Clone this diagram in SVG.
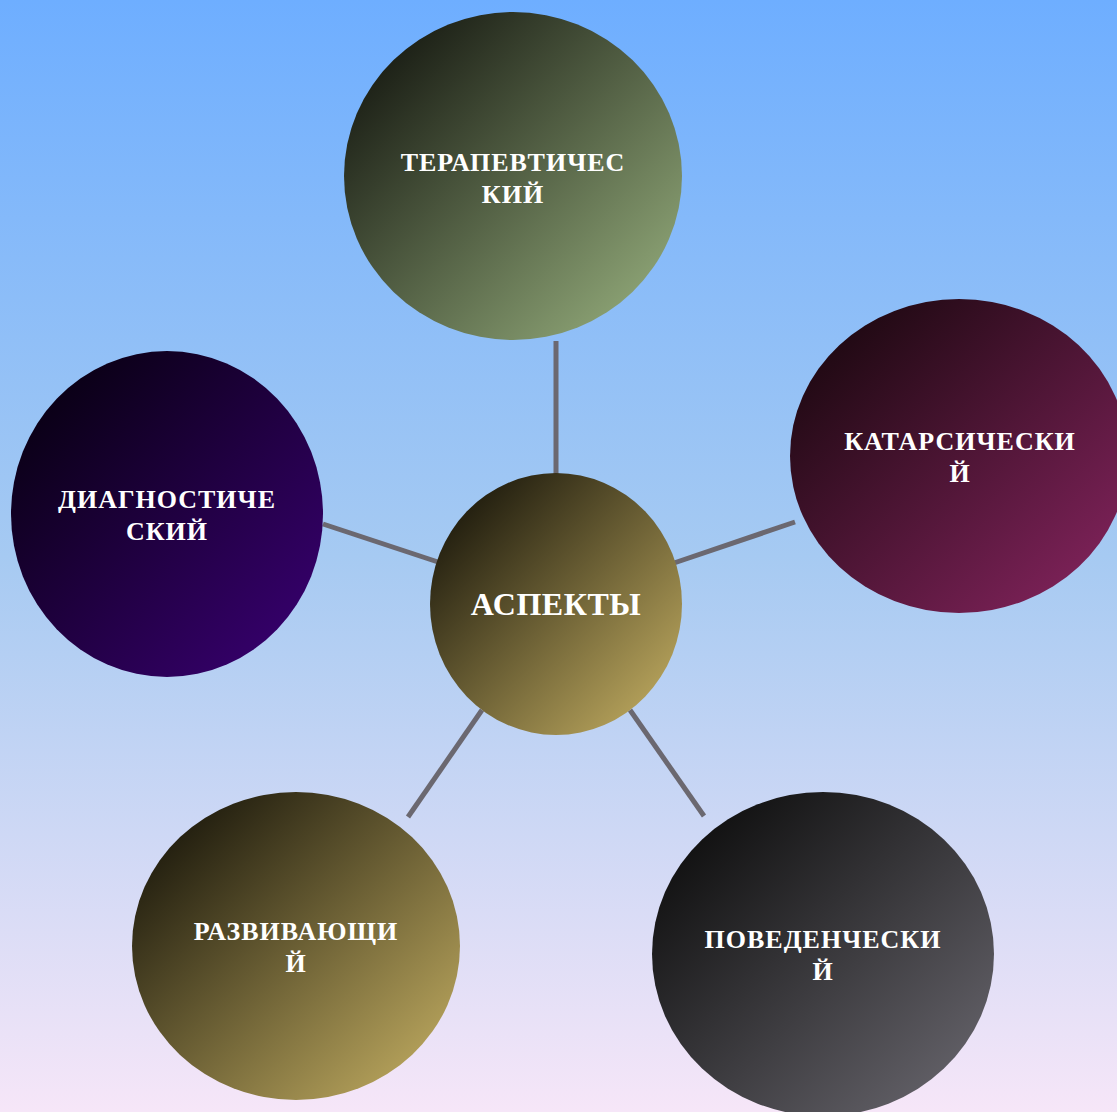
<svg xmlns="http://www.w3.org/2000/svg" width="1117" height="1112" viewBox="0 0 1117 1112">
<defs>
<linearGradient id="bg" x1="0" y1="0" x2="0" y2="1">
<stop offset="0" stop-color="#6eaeff"/>
<stop offset="0.5" stop-color="#a6caf2"/>
<stop offset="1" stop-color="#f6e6f8"/>
</linearGradient>
<linearGradient id="gTop" x1="0.1" y1="0.1" x2="0.9" y2="0.9">
<stop offset="0" stop-color="#171a12"/>
<stop offset="1" stop-color="#8ea576"/>
</linearGradient>
<linearGradient id="gRight" x1="0.1" y1="0.1" x2="0.9" y2="0.9">
<stop offset="0" stop-color="#1c0810"/>
<stop offset="1" stop-color="#7e2259"/>
</linearGradient>
<linearGradient id="gLeft" x1="0.1" y1="0.1" x2="0.9" y2="0.9">
<stop offset="0" stop-color="#080012"/>
<stop offset="1" stop-color="#36006c"/>
</linearGradient>
<linearGradient id="gGold" x1="0.1" y1="0.1" x2="0.9" y2="0.9">
<stop offset="0" stop-color="#1c190c"/>
<stop offset="1" stop-color="#b8a45c"/>
</linearGradient>
<linearGradient id="gGray" x1="0.1" y1="0.1" x2="0.9" y2="0.9">
<stop offset="0" stop-color="#0e0e0e"/>
<stop offset="1" stop-color="#636168"/>
</linearGradient>
</defs>
<style>
.lbl{font-family:"Liberation Serif","DejaVu Serif",serif;font-weight:bold;font-size:26px;letter-spacing:1px;fill:#ffffff;text-anchor:middle}
.big{font-size:32px;letter-spacing:0.5px}
.conn line{stroke:#6b6870;stroke-width:5}
</style>
<rect x="0" y="0" width="1117" height="1112" fill="url(#bg)"/>
<g class="conn">
<line x1="556" y1="341" x2="556" y2="475"/>
<line x1="674" y1="563" x2="795" y2="522"/>
<line x1="323" y1="524" x2="438" y2="562"/>
<line x1="482" y1="710" x2="408" y2="817"/>
<line x1="630" y1="710" x2="704" y2="816"/>
</g>
<g id="top">
<ellipse cx="513" cy="176" rx="169" ry="164" fill="url(#gTop)"/>
<text class="lbl" x="513" y="171">ТЕРАПЕВТИЧЕС</text>
<text class="lbl" x="513" y="203">КИЙ</text>
</g>
<g id="right">
<ellipse cx="959" cy="456" rx="169" ry="157" fill="url(#gRight)"/>
<text class="lbl" x="960" y="450">КАТАРСИЧЕСКИ</text>
<text class="lbl" x="960" y="482">Й</text>
</g>
<g id="left">
<ellipse cx="167" cy="514" rx="156" ry="163" fill="url(#gLeft)"/>
<text class="lbl" x="167" y="508">ДИАГНОСТИЧЕ</text>
<text class="lbl" x="167" y="540">СКИЙ</text>
</g>
<g id="bottomleft">
<ellipse cx="296" cy="946" rx="164" ry="154" fill="url(#gGold)"/>
<text class="lbl" x="296" y="940">РАЗВИВАЮЩИ</text>
<text class="lbl" x="296" y="972">Й</text>
</g>
<g id="bottomright">
<ellipse cx="823" cy="954" rx="171" ry="162" fill="url(#gGray)"/>
<text class="lbl" x="823" y="948">ПОВЕДЕНЧЕСКИ</text>
<text class="lbl" x="823" y="980">Й</text>
</g>
<g id="center">
<ellipse cx="556" cy="604" rx="126" ry="131" fill="url(#gGold)"/>
<text class="lbl big" x="556" y="615">АСПЕКТЫ</text>
</g>
</svg>
